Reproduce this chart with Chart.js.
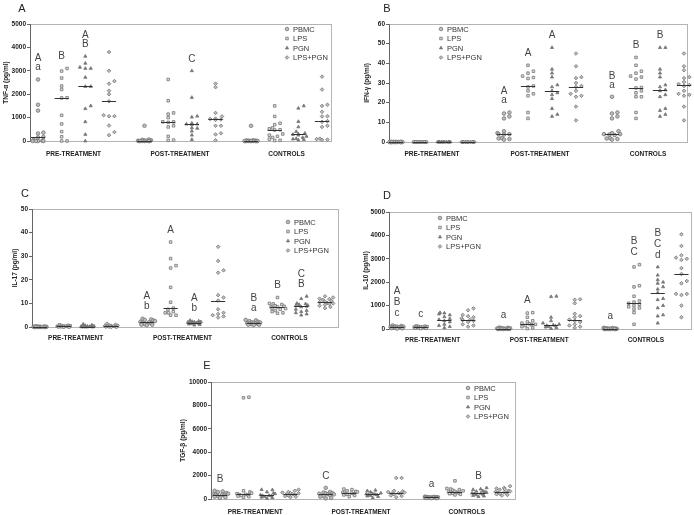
<!DOCTYPE html>
<html>
<head>
<meta charset="utf-8">
<script src="https://cdn.jsdelivr.net/npm/chart.js@4/dist/chart.umd.min.js"></script>
<style>
  body { margin: 0; background: #fff; width: 694px; height: 515px; overflow: hidden; position: relative;
         font-family: "Liberation Sans", Arial, sans-serif; }
  canvas { position: absolute; }
  .tag { position: absolute; font-size: 11px; line-height: 12px; color: #222; transform: translate(-50%, -50%); }
</style>
</head>
<body>
<script>
const groups = ["PRE-TREATMENT", "POST-TREATMENT", "CONTROLS"];
const stimuli = ["PBMC", "LPS", "PGN", "LPS+PGN"];

// each group array holds [PBMC, LPS, PGN, LPS+PGN]
// A: TNF-a (pg/ml)
const tnfTicks = [0, 1000, 2000, 3000, 4000, 5000];
const tnfPre = [
  [2630, 1550, 1300, 360, 320, 170, 150, 40, 10, 0, 0, 0, 0],
  [3100, 2990, 2690, 2350, 2200, 1850, 1840, 1100, 730, 400, 180, 0, 0],
  [3620, 3320, 3150, 3100, 3100, 2720, 2330, 2330, 1500, 1380, 820, 280, 0],
  [3800, 3000, 2560, 2450, 2150, 2000, 1700, 1100, 1060, 1060, 660, 380, 250]
];
const tnfPost = [
  [650, 60, 50, 30, 20, 10, 10, 0, 0, 0, 0, 0, 0],
  [2630, 1720, 1200, 1150, 1000, 820, 820, 800, 650, 600, 200, 40, 30],
  [3000, 1860, 1060, 1020, 760, 720, 720, 700, 560, 540, 420, 250, 60],
  [2450, 2300, 1200, 1050, 960, 940, 920, 900, 650, 650, 330, 280, 30]
];
const tnfCtrl = [
  [650, 30, 20, 10, 10, 0, 0, 0, 0, 0, 0, 0, 0, 0, 0],
  [1500, 1050, 760, 700, 560, 520, 480, 470, 300, 250, 200, 150, 80, 30, 20],
  [1500, 1400, 830, 600, 400, 330, 300, 280, 250, 200, 150, 100, 80, 60, 40],
  [2750, 2200, 1550, 1500, 1250, 1060, 1050, 850, 820, 650, 600, 100, 80, 60, 50]
];
const tnfLetters = [[0, "A", "a"], [1, "B"], [2, "A", "B"], [6, "C"]];

// B: IFN-g (pg/ml)
const ifnTicks = [0, 10, 20, 30, 40, 50, 60];
const ifnPre = [
  [0, 0, 0, 0, 0, 0, 0, 0, 0, 0, 0, 0, 0],
  [0, 0, 0, 0, 0, 0, 0, 0, 0, 0, 0, 0, 0],
  [0, 0, 0, 0, 0, 0, 0, 0, 0, 0, 0, 0, 0],
  [0, 0, 0, 0, 0, 0, 0, 0, 0, 0, 0, 0, 0]
];
const ifnPost = [
  [15, 14.5, 13, 12, 5.5, 4.5, 4, 4, 3.8, 2, 1.8, 1.5, 1.2],
  [39, 36, 35, 33.5, 32.8, 32.3, 28.5, 28, 26, 24.5, 23.5, 15, 12],
  [48, 37, 35, 33, 29, 28, 26, 25, 24, 22, 17, 14, 13],
  [45, 38.5, 33, 32.5, 30, 28.5, 28, 26, 24.5, 23.5, 23, 18, 11]
];
const ifnCtrl = [
  [23, 15, 14.5, 13, 12, 5.5, 4.5, 4, 4, 3.8, 3.5, 2, 1.8, 1.5, 1.2],
  [43, 39, 36, 35, 33.5, 33, 32, 27.7, 27.5, 26, 25, 23, 23, 15, 12],
  [48, 48, 37, 35, 33, 29, 28, 26.5, 26, 24, 23, 17, 16, 14, 13],
  [45, 38.5, 36.5, 33, 32.5, 30.5, 29.5, 29, 28.5, 26, 24.5, 24, 23.5, 18, 11]
];
const ifnLetters = [[4, "A", "a"], [5, "A"], [6, "A"], [8, "B", "a"], [9, "B"], [10, "B"]];

// C: IL-17 (pg/ml)
const il17Ticks = [0, 10, 20, 30, 40, 50];
const il17Pre = [
  [0.3, 0.2, 0.2, 0.1, 0.1, 0.1, 0, 0, 0, 0, 0, 0, 0],
  [0.9, 0.7, 0.6, 0.5, 0.4, 0.3, 0.3, 0.2, 0.2, 0.1, 0.1, 0, 0],
  [1.2, 0.8, 0.6, 0.4, 0.3, 0.2, 0.2, 0.1, 0.1, 0, 0, 0, 0],
  [1.4, 1, 0.8, 0.6, 0.5, 0.4, 0.3, 0.3, 0.2, 0.1, 0.1, 0, 0]
];
const il17Post = [
  [3.5, 3.2, 3, 2.8, 2.5, 2.2, 2, 1.8, 1.5, 1.2, 1, 1, 0.8],
  [36, 29, 26, 25, 16.8, 10.5, 8, 7.5, 6.5, 6, 6, 5, 5],
  [2.8, 2.5, 2.3, 2.2, 2.1, 2, 1.8, 1.6, 1.5, 1.4, 1.2, 1, 0.8],
  [34, 28, 24, 23, 13.5, 12.5, 11.2, 7.5, 6, 5.5, 5, 4.5, 4]
];
const il17Ctrl = [
  [3, 2.8, 2.5, 2.2, 2, 1.9, 1.8, 1.6, 1.5, 1.4, 1.3, 1.2, 1, 1, 0.9],
  [12.5, 10, 9.8, 9.5, 9, 8.8, 8.5, 8.5, 8, 7.8, 7.5, 7, 6.5, 6, 5.8],
  [13, 12, 10, 9.8, 9.5, 9.2, 9, 8.8, 8.5, 7.5, 7, 6.5, 6, 5.5, 5],
  [13, 12.5, 12, 11.8, 11.5, 11, 10.8, 10.5, 10.2, 10, 9.8, 9.5, 9, 8.5, 8]
];
const il17Letters = [[4, "A", "b"], [5, "A"], [6, "A", "b"], [8, "B", "a"], [9, "B"], [10, "C", "B"]];

// D: IL-10 (pg/ml)
const il10Ticks = [0, 1000, 2000, 3000, 4000, 5000];
const il10Pre = [
  [150, 130, 110, 100, 100, 90, 80, 70, 60, 50, 40, 30, 20],
  [130, 120, 110, 100, 90, 85, 80, 70, 60, 50, 40, 30, 20],
  [700, 680, 640, 600, 520, 440, 400, 350, 300, 200, 150, 100, 50],
  [880, 800, 600, 550, 500, 450, 400, 380, 350, 300, 200, 150, 100]
];
const il10Post = [
  [60, 50, 40, 30, 20, 20, 10, 10, 5, 0, 0, 0, 0],
  [700, 680, 500, 350, 300, 250, 220, 200, 180, 150, 100, 50, 20],
  [1400, 1380, 500, 350, 250, 200, 170, 150, 130, 100, 80, 50, 20],
  [1270, 1250, 1100, 650, 550, 500, 400, 350, 300, 200, 150, 100, 50]
];
const il10Ctrl = [
  [50, 40, 30, 20, 20, 10, 10, 10, 5, 0, 0, 0, 0, 0, 0],
  [2750, 2650, 1850, 1800, 1400, 1200, 1150, 1100, 1050, 1000, 950, 900, 850, 700, 200],
  [2650, 2300, 2100, 2000, 1950, 1800, 1700, 1550, 1300, 1250, 1000, 900, 600, 550, 250],
  [4050, 3550, 3150, 3050, 3000, 2950, 2600, 2350, 2050, 1950, 1500, 1500, 1450, 1000, 500]
];
const il10Letters = [[0, "A", "B", "c"], [1, "c"], [4, "a"], [5, "A"], [8, "a"], [9, "B", "C"], [10, "B", "C", "d"]];

// E: TGF-b (pg/ml)
const tgfTicks = [0, 2000, 4000, 6000, 8000, 10000];
const tgfPre = [
  [700, 650, 600, 500, 450, 400, 380, 350, 300, 250, 200, 150, 100],
  [8700, 8650, 700, 600, 500, 450, 400, 380, 350, 300, 250, 200, 150],
  [800, 780, 600, 500, 450, 350, 300, 280, 250, 200, 150, 100, 50],
  [800, 700, 600, 550, 500, 480, 400, 380, 350, 300, 250, 200, 150]
];
const tgfPost = [
  [950, 600, 550, 500, 480, 450, 420, 400, 350, 250, 200, 100, 50],
  [850, 800, 700, 650, 600, 550, 500, 480, 450, 400, 350, 300, 200],
  [750, 700, 600, 500, 450, 420, 400, 380, 350, 300, 250, 200, 100],
  [1800, 1800, 700, 650, 600, 550, 500, 480, 450, 400, 300, 250, 150]
];
const tgfCtrl = [
  [200, 180, 170, 160, 150, 150, 140, 130, 120, 110, 100, 100, 90, 80, 70],
  [1550, 900, 850, 800, 750, 700, 650, 600, 550, 520, 500, 480, 450, 400, 350],
  [950, 850, 800, 700, 650, 600, 550, 500, 480, 450, 400, 350, 300, 250, 200],
  [1100, 950, 900, 850, 800, 700, 650, 600, 580, 550, 500, 450, 400, 350, 300]
];
const tgfLetters = [[0, "B"], [4, "C"], [8, "a"], [10, "B"]];

const pointStyles = ["circle", "rect", "triangle", "rectRot"];
const pointFills = ["#bdbdbd", "#dedede", "#7a7a7a", "#bdbdbd"];
const pointEdge = "#737373";
const FONT = '"Liberation Sans", Arial, sans-serif';
Chart.defaults.font.family = FONT;
Chart.defaults.color = "#222";

// layout of each panel on the page (pixels)
const panels = [
  { tag: "A", yTitle: "TNF-\u03b1 (pg/ml)", data: [tnfPre, tnfPost, tnfCtrl], ticks: tnfTicks, letters: tnfLetters,
    box: { x: 0, y: 0, w: 340, h: 165 }, plot: { l: 30, t: 24, r: 331, b: 141 }, col0: 38, unit: 23.67,
    yTitleX: 6, xGap: 13, legend: { dx: 257, dy: 5 }, tagPos: [22, 8], letterGap: 9 },
  { tag: "B", yTitle: "IFN-\u03b3 (pg/ml)", data: [ifnPre, ifnPost, ifnCtrl], ticks: ifnTicks, letters: ifnLetters,
    box: { x: 347, y: 0, w: 347, h: 165 }, plot: { l: 389, t: 24, r: 687, b: 142 }, col0: 396, unit: 24,
    yTitleX: 20, xGap: 12, legend: { dx: 52, dy: 5 }, tagPos: [387, 8], letterGap: 9 },
  { tag: "C", yTitle: "IL-17 (pg/ml)", data: [il17Pre, il17Post, il17Ctrl], ticks: il17Ticks, letters: il17Letters,
    box: { x: 0, y: 170, w: 347, h: 175 }, plot: { l: 32, t: 209, r: 338, b: 327 }, col0: 40, unit: 23.75,
    yTitleX: 15, xGap: 11, legend: { dx: 256, dy: 13 }, tagPos: [25, 193], letterGap: 10 },
  { tag: "D", yTitle: "IL-10 (pg/ml)", data: [il10Pre, il10Post, il10Ctrl], ticks: il10Ticks, letters: il10Letters,
    box: { x: 347, y: 170, w: 347, h: 175 }, plot: { l: 389, t: 212, r: 692, b: 329 }, col0: 397, unit: 23.75,
    yTitleX: 19, xGap: 11, legend: { dx: 51, dy: 6 }, tagPos: [387, 195], letterGap: 11 },
  { tag: "E", yTitle: "TGF-\u03b2 (pg/ml)", data: [tgfPre, tgfPost, tgfCtrl], ticks: tgfTicks, letters: tgfLetters,
    box: { x: 170, y: 340, w: 360, h: 175 }, plot: { l: 211, t: 382, r: 515, b: 499 }, col0: 220, unit: 23.5,
    yTitleX: 13, xGap: 13, legend: { dx: 257, dy: 6 }, tagPos: [207, 365], letterGap: 10 }
];

function colPos(c) {
  return Math.floor(c / 4) * 4.5 + (c % 4);
}

function median(a) {
  const s = [...a].sort((x, y) => x - y);
  const n = s.length;
  return n % 2 ? s[(n - 1) / 2] : (s[n / 2 - 1] + s[n / 2]) / 2;
}

// column scatter: push colliding points sideways (returns offsets in x units)
function spread(values, unitPx, pxPerVal) {
  const order = values.map((v, i) => i).sort((a, b) => values[a] - values[b]);
  const placed = [];
  const off = new Array(values.length);
  const step = 2.7, size = 3.1, maxK = 3;
  order.forEach((i, n) => {
    const py = values[i] * pxPerVal;
    let chosen = null;
    for (let k = 0; k <= maxK * 2; k++) {
      const dx = (k % 2 ? 1 : -1) * Math.ceil(k / 2) * step;
      if (placed.every(p => Math.abs(p.x - dx) >= size || Math.abs(p.y - py) >= size)) { chosen = dx; break; }
    }
    if (chosen === null) chosen = ((n * 3) % (2 * maxK + 1) - maxK) * step * 0.8;
    placed.push({ x: chosen, y: py });
    off[i] = chosen / unitPx;
  });
  return off;
}

function drawMarker(ctx, style, fill, x, y) {
  if (Chart.helpers && Chart.helpers.drawPoint) {
    ctx.save();
    ctx.fillStyle = fill;
    ctx.strokeStyle = pointEdge;
    ctx.lineWidth = 0.8;
    Chart.helpers.drawPoint(ctx, { pointStyle: style, radius: 1.8, rotation: 0, borderWidth: 0.8 }, x, y);
    ctx.restore();
  }
}

const framePlugin = {
  id: "frame",
  beforeDatasetsDraw(chart) {
    const { ctx, chartArea: a } = chart;
    ctx.save();
    ctx.strokeStyle = "#b4b4b4";
    ctx.lineWidth = 1;
    ctx.strokeRect(Math.round(a.left) + 0.5, Math.round(a.top) + 0.5, Math.round(a.right - a.left), Math.round(a.bottom - a.top));
    ctx.strokeStyle = "#666";
    ctx.beginPath();
    ctx.moveTo(Math.round(a.left) + 0.5, a.top);
    ctx.lineTo(Math.round(a.left) + 0.5, a.bottom + 0.5);
    ctx.stroke();
    ctx.restore();
  }
};

const extrasPlugin = {
  id: "extras",
  afterDatasetsDraw(chart, args, opts) {
    const p = opts.panel;
    const { ctx, chartArea: a } = chart;
    const xs = chart.scales.x, ys = chart.scales.y;
    ctx.save();
    // median lines
    ctx.strokeStyle = "#333";
    ctx.lineWidth = 1;
    for (let c = 0; c < 12; c++) {
      const vals = p.data[Math.floor(c / 4)][c % 4];
      const y = Math.round(ys.getPixelForValue(median(vals))) + 0.5;
      ctx.beginPath();
      ctx.moveTo(xs.getPixelForValue(colPos(c) - 0.3), y);
      ctx.lineTo(xs.getPixelForValue(colPos(c) + 0.3), y);
      ctx.stroke();
    }
    // significance letters
    ctx.fillStyle = "#444";
    ctx.font = "10px " + FONT;
    ctx.textAlign = "center";
    ctx.textBaseline = "middle";
    p.letters.forEach(([c, ...txt]) => {
      const vals = p.data[Math.floor(c / 4)][c % 4];
      const x = xs.getPixelForValue(colPos(c));
      const y0 = ys.getPixelForValue(Math.max(...vals)) - 12;
      txt.slice().reverse().forEach((t, k) => ctx.fillText(t, x, y0 - k * p.letterGap));
    });
    // legend
    ctx.font = "7.5px " + FONT;
    ctx.textAlign = "left";
    stimuli.forEach((name, s) => {
      const x = a.left + p.legend.dx;
      const y = a.top + p.legend.dy + s * 9.5;
      drawMarker(ctx, pointStyles[s], pointFills[s], x, y);
      ctx.fillStyle = "#333";
      ctx.fillText(name, x + 6, y + 0.5);
    });
    ctx.restore();
  }
};

function makePanel(p) {
  const cv = document.createElement("canvas");
  cv.width = p.box.w;
  cv.height = p.box.h;
  Object.assign(cv.style, { left: p.box.x + "px", top: p.box.y + "px", width: p.box.w + "px", height: p.box.h + "px" });
  document.body.appendChild(cv);

  const tag = document.createElement("div");
  tag.className = "tag";
  tag.textContent = p.tag;
  tag.style.left = p.tagPos[0] + "px";
  tag.style.top = p.tagPos[1] + "px";
  document.body.appendChild(tag);

  const yMax = p.ticks[p.ticks.length - 1];
  const plotH = p.plot.b - p.plot.t;
  const yW = p.plot.l - p.box.x;
  const xH = p.box.y + p.box.h - p.plot.b;

  const datasets = stimuli.map((name, s) => {
    const pts = [];
    for (let g = 0; g < 3; g++) {
      const vals = p.data[g][s];
      const off = spread(vals, p.unit, plotH / yMax);
      vals.forEach((v, i) => pts.push({ x: colPos(g * 4 + s) + off[i], y: v }));
    }
    return {
      label: name,
      data: pts,
      pointStyle: pointStyles[s],
      pointRadius: 1.8,
      pointHoverRadius: 1.8,
      pointBorderWidth: 0.8,
      borderColor: pointEdge,
      backgroundColor: pointFills[s],
      showLine: false,
      clip: false
    };
  });

  new Chart(cv, {
    type: "scatter",
    data: { datasets },
    options: {
      responsive: false,
      animation: false,
      events: [],
      layout: { padding: { left: 0, top: p.plot.t - p.box.y, right: p.box.x + p.box.w - p.plot.r, bottom: 0 } },
      plugins: { legend: { display: false }, tooltip: { enabled: false }, extras: { panel: p } },
      scales: {
        x: {
          type: "linear",
          min: (p.plot.l - p.col0) / p.unit,
          max: (p.plot.r - p.col0) / p.unit,
          grid: { display: false, drawTicks: false },
          border: { display: false },
          afterBuildTicks: (sc) => { sc.ticks = groups.map((g, i) => ({ value: i * 4.5 + 1.5 })); },
          afterFit: (sc) => { sc.height = xH; },
          ticks: {
            autoSkip: false,
            maxRotation: 0,
            padding: p.xGap - 4,
            font: { size: 6.5, weight: "bold" },
            color: "#222",
            callback: (v) => groups[Math.round((v - 1.5) / 4.5)]
          }
        },
        y: {
          min: 0,
          max: yMax,
          afterBuildTicks: (sc) => { sc.ticks = p.ticks.map(v => ({ value: v })); },
          afterFit: (sc) => { sc.width = yW; },
          grid: { drawOnChartArea: false, drawTicks: true, tickLength: 3, color: "#666" },
          border: { display: false },
          ticks: { padding: 1, font: { size: 6.5, weight: "bold" }, color: "#222", callback: (v) => String(v) },
          title: {
            display: true,
            text: p.yTitle,
            font: { size: 6.5, weight: "bold" },
            color: "#222",
            padding: { top: p.yTitleX - 3.9, bottom: 0 }
          }
        }
      }
    },
    plugins: [framePlugin, extrasPlugin]
  });
}

panels.forEach(makePanel);
</script>
</body>
</html>
